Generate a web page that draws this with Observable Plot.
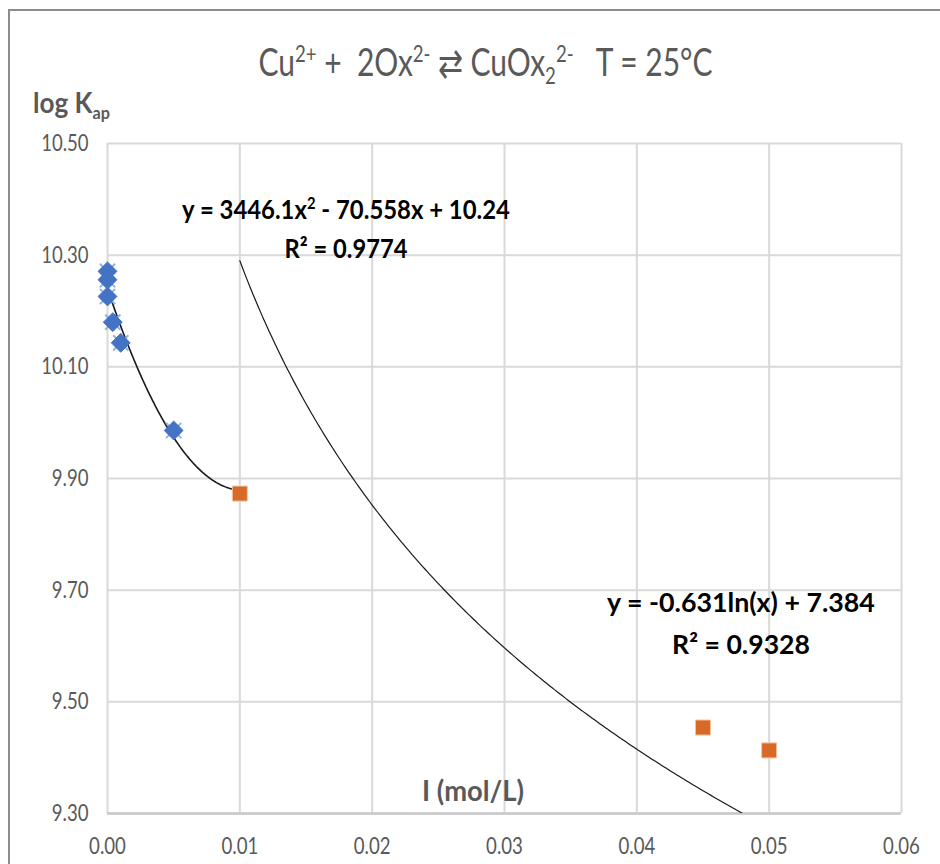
<!DOCTYPE html>
<html>
<head>
<meta charset="utf-8">
<script src="https://cdn.jsdelivr.net/npm/d3@7"></script>
<script src="https://cdn.jsdelivr.net/npm/@observablehq/plot@0.6"></script>
<style>
  html, body { margin: 0; padding: 0; background: #fff; }
  #chart svg { display: block; }
</style>
</head>
<body>
<div id="chart"></div>
<script>
// Data
const blueX = [0.0000, 0.0000, 0.0000, 0.0004, 0.0010, 0.0050];
const blueY = [10.271, 10.256, 10.226, 10.180, 10.143, 9.986];
const orangeX = [0.010, 0.045, 0.050];
const orangeY = [9.873, 9.454, 9.413];

// Trendline coefficients as printed on the chart
const quadCoef = [3446.1, -70.558, 10.24];   // a x^2 + b x + c
const logCoef = [-0.631, 7.384];             // a ln(x) + b
const quadRange = [0, 0.01];
const logRange = [0.01, 0.05];

const xTicks = [0, 0.01, 0.02, 0.03, 0.04, 0.05, 0.06];
const yTicks = [9.3, 9.5, 9.7, 9.9, 10.1, 10.3, 10.5];

const blue = blueX.map((x, i) => ({x, y: blueY[i]}));
const orange = orangeX.map((x, i) => ({x, y: orangeY[i]}));
const quadLine = d3.range(0, 101).map(i => {
  const x = quadRange[0] + (quadRange[1] - quadRange[0]) * i / 100;
  return {x, y: quadCoef[0] * x * x + quadCoef[1] * x + quadCoef[2]};
});
const logLine = d3.range(0, 201).map(i => {
  const x = logRange[0] + (logRange[1] - logRange[0]) * i / 200;
  return {x, y: logCoef[0] * Math.log(x) + logCoef[1]};
});

const FONT = "Lato, 'Open Sans', Roboto, sans-serif";
const GRAY = "#595959";

const chart = Plot.plot({
  width: 940,
  height: 864,
  marginLeft: 107,
  marginRight: 39,
  marginTop: 143,
  marginBottom: 51,
  style: {fontFamily: FONT, background: "#fff", overflow: "visible"},
  x: {domain: [0, 0.06], axis: null},
  y: {domain: [9.3, 10.5], axis: null},
  marks: [
    Plot.gridX(xTicks, {stroke: "#d9d9d9", strokeOpacity: 1, strokeWidth: 2}),
    Plot.gridY(yTicks, {stroke: "#d9d9d9", strokeOpacity: 1, strokeWidth: 2}),
    Plot.ruleY([9.3], {stroke: "#c8c8c8", strokeWidth: 2.5}),
    Plot.axisX(xTicks, {tickSize: 0, tickPadding: 24, tickFormat: d3.format(".2f"), fontSize: 23, fill: GRAY, label: null}),
    Plot.axisY(yTicks, {tickSize: 0, tickPadding: 19, tickFormat: d3.format(".2f"), fontSize: 23, fill: GRAY, label: null}),
    Plot.line(quadLine, {x: "x", y: "y", stroke: "#1a1a1a", strokeWidth: 1.6, clip: true}),
    Plot.line(logLine, {x: "x", y: "y", stroke: "#1a1a1a", strokeWidth: 1.2, clip: true}),
    Plot.dot(blue, {x: "x", y: "y", symbol: "times", r: 7, stroke: "#8fb4e8", strokeWidth: 2}),
    Plot.dot(blue, {x: "x", y: "y", symbol: "diamond2", r: 8.5, fill: "#4472c4", stroke: "#4472c4", strokeWidth: 1}),
    Plot.dot(orange, {x: "x", y: "y", symbol: "square", r: 8.5, fill: "#d86a28", stroke: "#f6c6a0", strokeWidth: 1})
  ]
});

document.getElementById("chart").appendChild(chart);

const svg = d3.select(chart);

// horizontally condense a text element to a target width (Calibri-like narrow look)
function condense(node, target, anchor) {
  const bb = node.getBBox();
  if (!bb.width) return;
  const s = target / bb.width;
  const ax = anchor === "end" ? bb.x + bb.width : anchor === "start" ? bb.x : bb.x + bb.width / 2;
  const prev = node.getAttribute("transform") || "";
  node.setAttribute("transform", `${prev} translate(${ax},0) scale(${s},1) translate(${-ax},0)`);
}

// tick labels: digits ~10.6px wide, decimal point ~5px
svg.selectAll("g[aria-label='y-axis tick label'] text").each(function() {
  const t = this.textContent;
  condense(this, (t.length - 1) * 10.6 + 5, "end");
});
svg.selectAll("g[aria-label='x-axis tick label'] text").each(function() {
  const t = this.textContent;
  condense(this, (t.length - 1) * 10.6 + 5, "middle");
});

// outer chart border (left and top)
svg.append("path")
  .attr("d", "M9,864V10H940")
  .attr("fill", "none")
  .attr("stroke", "#8c8c8c")
  .attr("stroke-width", 2);

function rich(parent, x, y, parts, opts) {
  const t = parent.append("text")
    .attr("x", x).attr("y", y)
    .attr("text-anchor", opts.anchor || "middle")
    .attr("font-family", FONT)
    .attr("font-size", opts.size)
    .attr("font-weight", opts.weight || "normal")
    .attr("fill", opts.fill || GRAY)
    .attr("xml:space", "preserve")
    .style("white-space", "pre");
  let shift = 0;
  for (const [s, kind] of parts) {
    const ts = t.append("tspan").text(s);
    let target = 0, fs = opts.size;
    if (kind === "sup") { target = -0.38 * opts.size; fs = opts.size * 0.62; }
    if (kind === "sub") { target = 0.22 * opts.size; fs = opts.size * 0.62; }
    ts.attr("font-size", fs).attr("dy", target - shift);
    shift = target;
  }
  if (opts.width) condense(t.node(), opts.width, opts.anchor || "middle");
  return t;
}

// Title
rich(svg, 485.5, 76, [
  ["Cu"], ["2+", "sup"], [" +  2Ox"], ["2-", "sup"], [" \u21c4 CuOx"], ["2", "sub"], ["2-", "sup"], ["   T = 25\u00b0C"]
], {size: 38, width: 455});

// y axis title
rich(svg, 33, 113, [["log K"], ["ap", "sub"]], {size: 29, weight: "bold", anchor: "start", width: 77});

// x axis title
rich(svg, 473, 801, [["I (mol/L)"]], {size: 28, weight: "bold", width: 102});

// Trendline equations
rich(svg, 346, 219, [["y = 3446.1x"], ["2", "sup"], [" - 70.558x + 10.24"]], {size: 26, weight: "bold", fill: "#000", width: 328});
rich(svg, 346, 258, [["R\u00b2 = 0.9774"]], {size: 26, weight: "bold", fill: "#000", width: 123});
rich(svg, 741, 612, [["y = -0.631ln(x) + 7.384"]], {size: 26, weight: "bold", fill: "#000", width: 268});
rich(svg, 741, 654, [["R\u00b2 = 0.9328"]], {size: 26, weight: "bold", fill: "#000", width: 138});
</script>
</body>
</html>
